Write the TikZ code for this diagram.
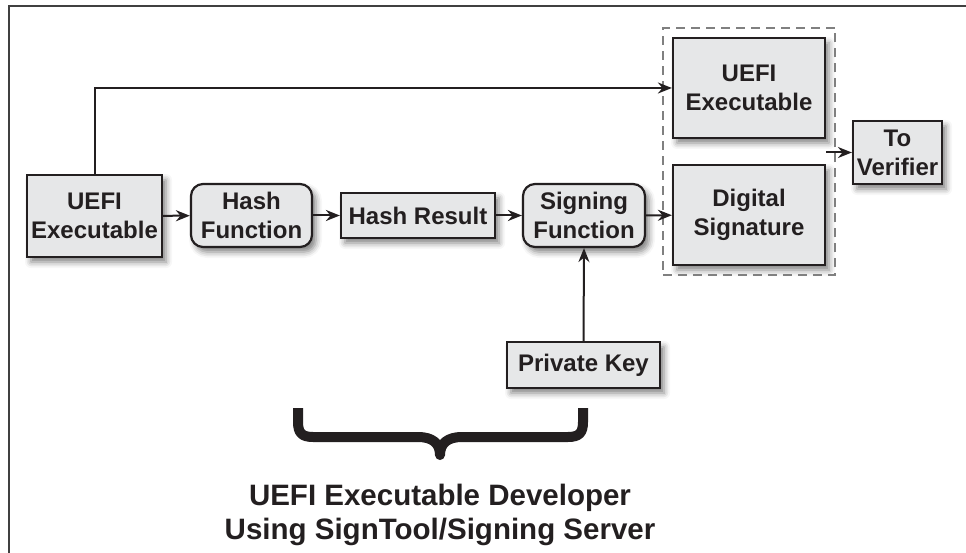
\documentclass[tikz,border=0pt]{standalone}
\usepackage{fontspec}
\setmainfont{Liberation Sans}
\usepackage{tikz}
\usetikzlibrary{arrows.meta,shadows.blur,fit}
\definecolor{boxgray}{HTML}{E6E7E8}
\definecolor{ink}{HTML}{231F20}

\begin{document}
\begin{tikzpicture}[x=1pt,y=-1pt]
        \tikzset{block/.style={draw=ink, line width=2.2pt, fill=boxgray, text=ink,
            align=center, inner sep=0pt,
            font=\fontsize{24}{29}\selectfont\bfseries,
            blur shadow={shadow xshift=4pt, shadow yshift=-5pt,
                shadow blur radius=6pt, shadow opacity=50}},
            func/.style={block, rounded corners=12pt},
            link/.style={draw=ink, line width=2pt, -{Stealth[length=14pt,width=11pt]}}}
        \useasboundingbox (0,0) rectangle (966,553);
        \draw[line width=2pt, black!75] (9,553) -- (9,6) -- (966,6);
        \node[block, minimum width=135pt, minimum height=82pt] (Exe) at (94.5,216) {UEFI\\Executable};
        \node[func, minimum width=121pt, minimum height=63pt] (Hash) at (251.5,215.5) {Hash\\Function};
        \node[block, minimum width=154pt, minimum height=45pt] (Result) at (418,215.5) {Hash Result};
        \node[func, minimum width=122pt, minimum height=63pt] (Sign) at (584,215.5) {Signing\\Function};
        \node[block, minimum width=153pt, minimum height=46pt] (Key) at (583.5,365) {Private Key};
        \node[block, minimum width=152pt, minimum height=100pt] (ExeOut) at (749,88) {UEFI\\Executable};
        \node[block, minimum width=152pt, minimum height=100pt] (Sig) at (749,215) {Digital\\Signature};
        \node[block, minimum width=89pt, minimum height=63pt] (Verifier) at (897.5,152.5) {To\\Verifier};
        \node[draw=black!50, line width=2.5pt, dash pattern=on 9pt off 6pt, inner sep=9pt,
            fit=(ExeOut)(Sig)] (Signed) {};
        \coordinate (Port) at (ExeOut.east |- Verifier.west);
        \draw[link] (Exe) -- (Hash);
        \draw[link] (Hash) -- (Result);
        \draw[link] (Result) -- (Sign);
        \draw[link] (Sign) -- (Sig);
        \draw[link] (Exe.north) |- (ExeOut.west);
        \draw[link] (Key.north) -- (Sign.south);
        \draw[link] (Port) -- (Verifier.west);
        % the brace under the signing side
        \draw[line width=10pt, ink, line join=round]
            (298,408) -- (298,422) .. controls (298,433) and (302,437) .. (313,437)
            -- (418,437) .. controls (432,437) and (440,443) .. (440,455)
            .. controls (440,443) and (448,437) .. (462,437)
            -- (568,437) .. controls (579,437) and (583,433) .. (583,422) -- (583,408);
        \node[text=ink, align=center, font=\fontsize{29.5}{34}\selectfont\bfseries]
            (Who) at (440,515) {UEFI Executable Developer\\Using SignTool/Signing Server};
    \end{tikzpicture}
\end{document}
